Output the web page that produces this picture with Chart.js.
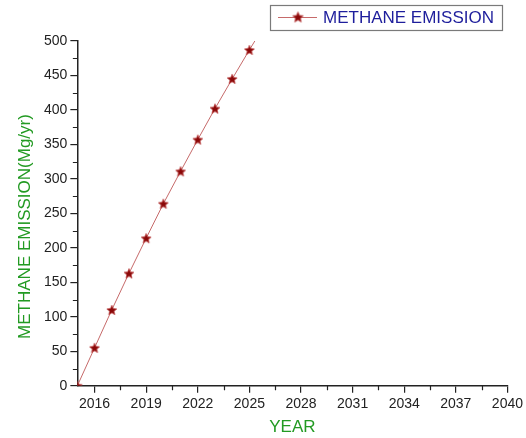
<!DOCTYPE html>
<html>
<head>
<meta charset="utf-8">
<script src="https://cdn.jsdelivr.net/npm/chart.js@4"></script>
<style>
html,body{margin:0;padding:0;background:#fff;}
#wrap{width:526px;height:438px;}
</style>
</head>
<body>
<div id="wrap"><canvas id="c" width="526" height="438"></canvas></div>
<script>
// ---- data ----
const years = [2015, 2016, 2017, 2018, 2019, 2020, 2021, 2022, 2023, 2024, 2025, 2026];
const emission = [0, 55, 110, 163, 214, 264, 311, 357, 402, 445, 487, 528];
const seriesLabel = 'METHANE EMISSION';
const xTickValues = [2016, 2019, 2022, 2025, 2028, 2031, 2034, 2037, 2040];
const xMinorTicks = [2017.5, 2020.5, 2023.5, 2026.5, 2029.5, 2032.5, 2035.5, 2038.5];
const yTickValues = [0, 50, 100, 150, 200, 250, 300, 350, 400, 450, 500];
const yMinorTicks = [25, 75, 125, 175, 225, 275, 325, 375, 425, 475];
const xTitle = 'YEAR';
const yTitle = 'METHANE EMISSION(Mg/yr)';

const FONT = '"Liberation Sans", Arial, sans-serif';
const LINE_COLOR = '#c66a6a';
const GREEN = '#229a22';

function makeStar(r) {
  const s = Math.ceil(r * 2 + 3);
  const cv = document.createElement('canvas');
  cv.width = s; cv.height = s;
  const g = cv.getContext('2d');
  const cx = s / 2, cy = s / 2 + 0.5, ri = r * 0.45;
  g.beginPath();
  for (let i = 0; i < 10; i++) {
    const rr = i % 2 === 0 ? r : ri;
    const a = -Math.PI / 2 + i * Math.PI / 5;
    const px = cx + rr * Math.cos(a), py = cy + rr * Math.sin(a);
    if (i === 0) g.moveTo(px, py); else g.lineTo(px, py);
  }
  g.closePath();
  g.fillStyle = '#8a0808';
  g.fill();
  g.lineWidth = 0.8;
  g.strokeStyle = 'rgba(190,70,70,0.9)';
  g.stroke();
  return cv;
}
const starImg = makeStar(5.2);
const legendStar = makeStar(5.6);

const points = years.map((y, i) => ({ x: y, y: emission[i] }));

const extras = {
  id: 'extras',
  afterDraw(chart) {
    const ctx = chart.ctx;
    const xs = chart.scales.x, ys = chart.scales.y;
    ctx.save();
    // minor ticks
    ctx.strokeStyle = '#222';
    ctx.lineWidth = 1.2;
    ctx.beginPath();
    xMinorTicks.forEach(v => {
      const px = Math.round(xs.getPixelForValue(v)) + 0.5;
      ctx.moveTo(px, ys.bottom);
      ctx.lineTo(px, ys.bottom + 4.5);
    });
    yMinorTicks.forEach(v => {
      const py = Math.round(ys.getPixelForValue(v)) + 0.5;
      ctx.moveTo(xs.left, py);
      ctx.lineTo(xs.left - 4.5, py);
    });
    ctx.stroke();

    // y axis title
    ctx.save();
    ctx.translate(25, 226.5);
    ctx.rotate(-Math.PI / 2);
    ctx.fillStyle = GREEN;
    ctx.font = '17px ' + FONT;
    ctx.textAlign = 'center';
    ctx.textBaseline = 'middle';
    ctx.fillText(yTitle, 0, 0);
    ctx.restore();

    // legend box
    ctx.strokeStyle = '#7a7a7a';
    ctx.lineWidth = 1.2;
    ctx.strokeRect(270.5, 5.5, 232, 25);
    ctx.strokeStyle = LINE_COLOR;
    ctx.lineWidth = 1;
    ctx.beginPath();
    ctx.moveTo(278, 17.5);
    ctx.lineTo(317, 17.5);
    ctx.stroke();
    ctx.drawImage(legendStar, 298 - legendStar.width / 2, 17 - legendStar.height / 2);
    ctx.fillStyle = '#1e1e9c';
    ctx.font = '17px ' + FONT;
    ctx.textAlign = 'left';
    ctx.textBaseline = 'middle';
    ctx.fillText(chart.data.datasets[0].label, 323, 18);
    ctx.restore();
  }
};

new Chart(document.getElementById('c'), {
  type: 'line',
  data: {
    datasets: [{
      label: seriesLabel,
      data: points,
      borderColor: LINE_COLOR,
      borderWidth: 1,
      pointStyle: starImg,
      pointRadius: ctx => (ctx.dataIndex === years.length - 1 ? 0 : 5),
      tension: 0,
      fill: false
    }]
  },
  options: {
    responsive: false,
    animation: false,
    events: [],
    layout: { padding: { left: 41, right: 18, top: 41, bottom: 0 } },
    plugins: { legend: { display: false }, tooltip: { enabled: false } },
    scales: {
      x: {
        type: 'linear',
        min: 2015,
        max: 2040,
        afterBuildTicks: axis => { axis.ticks = xTickValues.map(v => ({ value: v })); },
        ticks: {
          color: '#222',
          font: { family: FONT, size: 14 },
          padding: 3,
          maxRotation: 0,
          autoSkip: false,
          callback: v => String(v)
        },
        grid: { display: true, drawOnChartArea: false, drawTicks: true, tickLength: 7, color: '#222', lineWidth: 1.2 },
        border: { display: true, color: '#222', width: 1.5 },
        title: {
          display: true,
          text: xTitle,
          color: GREEN,
          font: { family: FONT, size: 17 },
          padding: { top: 2, bottom: 0 }
        }
      },
      y: {
        type: 'linear',
        min: 0,
        max: 500,
        afterBuildTicks: axis => { axis.ticks = yTickValues.map(v => ({ value: v })); },
        ticks: {
          color: '#222',
          font: { family: FONT, size: 14 },
          padding: 3,
          autoSkip: false,
          callback: v => String(v)
        },
        grid: { display: true, drawOnChartArea: false, drawTicks: true, tickLength: 7, color: '#222', lineWidth: 1.2 },
        border: { display: true, color: '#222', width: 1.5 }
      }
    }
  },
  plugins: [extras]
});
</script>
</body>
</html>
